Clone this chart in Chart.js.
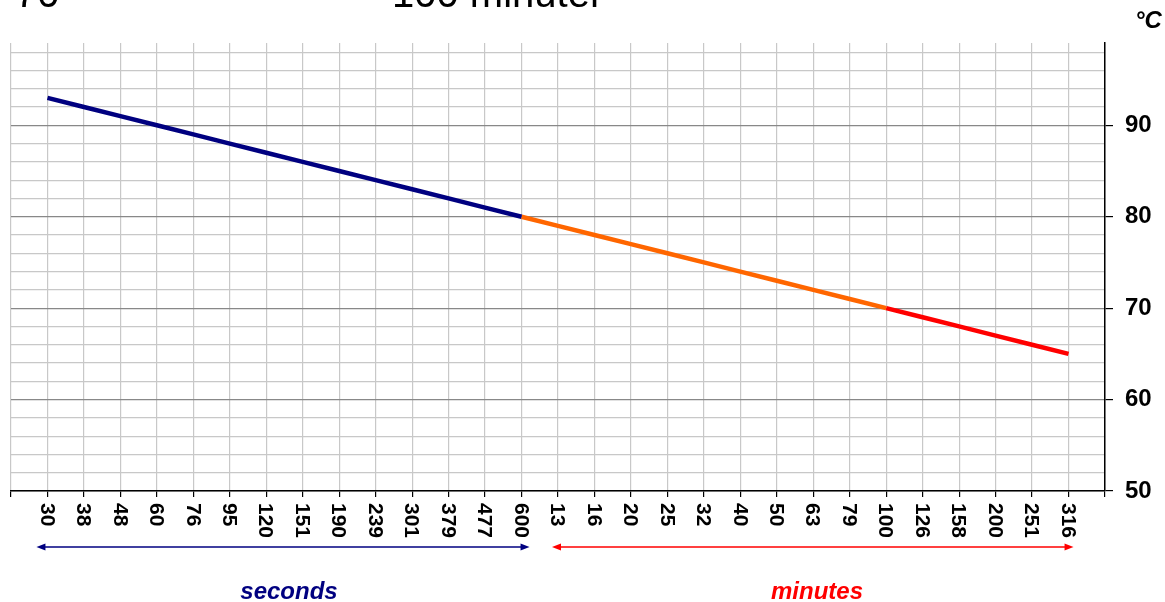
<!DOCTYPE html>
<html>
<head>
<meta charset="utf-8">
<script src="https://cdn.jsdelivr.net/npm/chart.js@4/dist/chart.umd.min.js"></script>
<style>
  html, body { margin: 0; padding: 0; background: #fff; }
  #wrap { width: 1165px; height: 602px; position: relative; }
</style>
</head>
<body>
<div id="wrap"><canvas id="coolingChart"></canvas></div>
<script>
// tick labels along the bottom
const secondLabels = ["30", "38", "48", "60", "76", "95", "120", "151", "190", "239", "301", "379", "477", "600"];
const minuteLabels = ["13", "16", "20", "25", "32", "40", "50", "63", "79", "100", "126", "158", "200", "251", "316"];

// temperatures (°C)
const secondTemps = [93, 92, 91, 90, 89, 88, 87, 86, 85, 84, 83, 82, 81, 80];   // 30 s .. 600 s
const orangeTemps = [80, 79, 78, 77, 76, 75, 74, 73, 72, 71, 70];               // 600 s .. 100 min
const redTemps = [70, 69, 68, 67, 66, 65];                                      // 100 min .. 316 min

const yLabelValues = [50, 60, 70, 80, 90];

const FONT = "'Liberation Sans', Arial, sans-serif";
const NAVY = "#000080";
const ORANGE = "#FF6600";
const RED = "#FF0000";

// empty slot on both ends of the axis
const categories = ["", ...secondLabels, ...minuteLabels, ""];

function padSeries(startLabel, values, fromMinutes) {
  const start = fromMinutes
    ? 1 + secondLabels.length + minuteLabels.indexOf(startLabel)
    : 1 + secondLabels.indexOf(startLabel);
  const out = categories.map(() => null);
  values.forEach((v, i) => { out[start + i] = v; });
  return out;
}

// grid every 2 °C, top of the plot is 99
const gridValues = [];
for (let v = 50; v <= 98; v += 2) gridValues.push(v);

const extrasPlugin = {
  id: "extras",
  afterDraw(chart) {
    const { ctx } = chart;
    const x = chart.scales.x;
    const bottom = chart.chartArea.bottom;

    ctx.save();
    ctx.fillStyle = "#000";

    // cut-off heading above the plot
    ctx.font = `40px ${FONT}`;
    ctx.textAlign = "left";
    ctx.textBaseline = "alphabetic";
    ctx.fillText("70", 15, 7);
    ctx.fillText("100 minuter", 392, 7);

    // unit
    ctx.font = `italic bold 24px ${FONT}`;
    ctx.fillText("°C", 1135, 28);

    // rotated category labels (clockwise)
    ctx.font = `bold 21px ${FONT}`;
    ctx.textBaseline = "middle";
    for (let i = 1; i < categories.length - 1; i++) {
      const px = x.getPixelForTick(i);
      ctx.save();
      ctx.translate(px, bottom + 12);
      ctx.rotate(Math.PI / 2);
      ctx.fillText(categories[i], 0, 1);
      ctx.restore();
    }

    // double arrows + captions
    const firstSec = x.getPixelForTick(1);
    const lastSec = x.getPixelForTick(secondLabels.length);
    const firstMin = x.getPixelForTick(secondLabels.length + 1);
    const lastMin = x.getPixelForTick(categories.length - 2);
    drawArrow(ctx, firstSec - 11, lastSec + 8, 547, NAVY);
    drawArrow(ctx, firstMin - 6, lastMin + 5, 547, RED);

    ctx.font = `italic bold 24px ${FONT}`;
    ctx.textAlign = "center";
    ctx.textBaseline = "alphabetic";
    ctx.fillStyle = NAVY;
    ctx.fillText("seconds", 289, 599);
    ctx.fillStyle = RED;
    ctx.fillText("minutes", 817, 599);
    ctx.restore();
  }
};

function drawArrow(ctx, x1, x2, y, color) {
  ctx.save();
  ctx.strokeStyle = color;
  ctx.fillStyle = color;
  ctx.lineWidth = 1.6;
  ctx.beginPath();
  ctx.moveTo(x1 + 4, y);
  ctx.lineTo(x2 - 4, y);
  ctx.stroke();
  [[x1, 1], [x2, -1]].forEach(([tip, dir]) => {
    ctx.beginPath();
    ctx.moveTo(tip, y);
    ctx.lineTo(tip + dir * 9, y - 3.5);
    ctx.lineTo(tip + dir * 9, y + 3.5);
    ctx.closePath();
    ctx.fill();
  });
  ctx.restore();
}

const lineStyle = { borderWidth: 4.5, pointRadius: 0, fill: false, tension: 0, spanGaps: false };

new Chart(document.getElementById("coolingChart"), {
  type: "line",
  data: {
    labels: categories,
    datasets: [
      { ...lineStyle, label: "seconds", data: padSeries("30", secondTemps, false), borderColor: NAVY },
      { ...lineStyle, label: "minutes", data: padSeries("600", orangeTemps, false), borderColor: ORANGE },
      { ...lineStyle, label: "minutes2", data: padSeries("100", redTemps, true), borderColor: RED }
    ]
  },
  options: {
    responsive: true,
    maintainAspectRatio: false,
    animation: false,
    layout: { padding: { left: 11, top: 43, right: 0, bottom: 0 } },
    plugins: {
      legend: { display: false },
      tooltip: { enabled: false }
    },
    scales: {
      x: {
        type: "category",
        offset: false,
        ticks: { display: false, autoSkip: false },
        grid: { color: "#c8c8c8", lineWidth: 1.2, tickColor: "#000", tickLength: 6 },
        border: { color: "#000", width: 1.5 },
        afterFit: s => { s.height = 111; }
      },
      y: {
        position: "right",
        min: 50,
        max: 99,
        afterBuildTicks: s => { s.ticks = gridValues.map(v => ({ value: v })); },
        afterFit: s => { s.width = 60; },
        ticks: {
          autoSkip: false,
          padding: 12,
          color: "#000",
          font: { family: FONT, size: 24, weight: "bold" },
          callback: v => (yLabelValues.includes(v) ? String(v) : "")
        },
        grid: {
          color: c => (c.tick && yLabelValues.includes(c.tick.value) ? "#888" : "#c8c8c8"),
          lineWidth: 1.2,
          tickColor: c => (c.tick && yLabelValues.includes(c.tick.value) ? "#000" : "rgba(0,0,0,0)"),
          tickLength: 8
        },
        border: { color: "#000", width: 1.5 }
      }
    }
  },
  plugins: [extrasPlugin]
});
</script>
</body>
</html>
